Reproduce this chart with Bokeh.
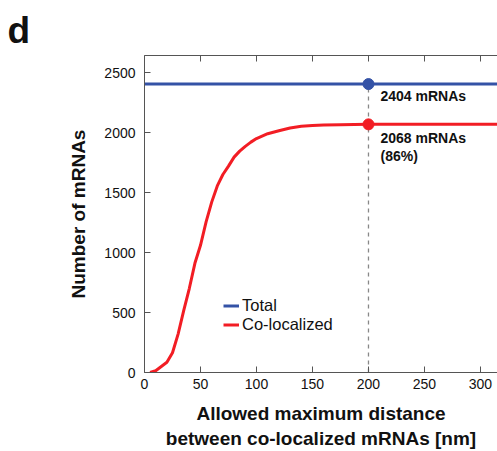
from bokeh.plotting import figure
from bokeh.models import Range1d, LinearAxis, FixedTicker, Legend, LegendItem
from bokeh.core.properties import value
from bokeh.embed import file_html
from bokeh.resources import INLINE

# ---- data ----
coloc_x = [5, 10, 15, 20, 25, 30, 35, 40, 45, 50, 55, 60, 65, 70, 75, 80, 85, 90, 95,
           100, 110, 120, 130, 140, 150, 160, 175, 200, 320]
coloc_y = [0, 15, 50, 85, 165, 320, 515, 700, 910, 1060, 1255, 1420, 1555, 1650, 1720,
           1795, 1845, 1885, 1920, 1950, 1990, 2015, 2038, 2052, 2058, 2062, 2065, 2068, 2068]
total_x = [0, 320]
total_y = [2404, 2404]
cut_x = 200
total_at_cut = 2404
coloc_at_cut = 2068
x_ticks = [0, 50, 100, 150, 200, 250, 300]
y_ticks = [0, 500, 1000, 1500, 2000, 2500]
label_total = "2404 mRNAs"
label_coloc = ["2068 mRNAs", "(86%)"]

FONT = "Liberation Sans"
BLUE = "#3452a6"
RED = "#f21d24"
AX = "#555555"

p = figure(width=497, height=451, output_backend="svg", toolbar_location=None,
           x_range=Range1d(0, 315.2), y_range=Range1d(0, 2642),
           min_border_left=144, min_border_right=0, min_border_top=55, min_border_bottom=79)
p.outline_line_color = None
p.grid.visible = False
p.background_fill_color = "white"
p.border_fill_color = "white"

# panel letter as title
p.title.text = "d"
p.title.align = "left"
p.title.offset = -137
p.title.standoff = 10
p.title.text_line_height = 1.0
p.title.text_font = FONT
p.title.text_font_style = "bold"
p.title.text_font_size = "37px"
p.title.text_color = "#111111"

for ax in [p.xaxis[0], p.yaxis[0]]:
    ax.axis_line_color = AX
    ax.major_tick_line_color = AX
    ax.major_tick_in = 6
    ax.major_tick_out = 0
    ax.minor_tick_line_color = None
    ax.major_label_text_font = FONT
    ax.major_label_text_font_size = "14px"
    ax.major_label_text_color = "#111111"
    ax.axis_label_text_font = FONT
    ax.axis_label_text_font_style = "bold"
    ax.axis_label_text_font_size = "19px"
    ax.axis_label_text_color = "#111111"

p.xaxis.ticker = FixedTicker(ticks=x_ticks)
p.yaxis.ticker = FixedTicker(ticks=y_ticks)
p.xaxis.major_label_standoff = 6
p.yaxis.major_label_standoff = 9
p.xaxis.axis_label = "Allowed maximum distance\nbetween co-localized mRNAs [nm]"
p.yaxis.axis_label = "Number of mRNAs"
p.xaxis.axis_label_standoff = 11
p.yaxis.axis_label_standoff = 12

top = LinearAxis(ticker=FixedTicker(ticks=x_ticks))
top.axis_line_color = AX
top.major_tick_line_color = AX
top.major_tick_in = 6
top.major_tick_out = 0
top.minor_tick_line_color = None
top.major_label_text_color = None
top.major_label_text_font_size = "1px"
top.major_label_standoff = 0
p.add_layout(top, "above")

# dashed vertical line at cut
p.line([cut_x, cut_x], [0, total_at_cut], line_color="#888888", line_width=1.3, line_dash="4 4")

r_total = p.line(total_x, total_y, line_color=BLUE, line_width=3)
r_coloc = p.line(coloc_x, coloc_y, line_color=RED, line_width=3)

p.scatter([cut_x], [total_at_cut], size=11, color=BLUE)
p.scatter([cut_x], [coloc_at_cut], size=11, color=RED)

p.text([210.7], [2308], text=[label_total], text_font=value(FONT), text_font_style="bold",
       text_font_size="14px", text_baseline="middle", text_color="#111111")
p.text([210.7, 210.7], [1952, 1808], text=label_coloc, text_font=value(FONT), text_font_style="bold",
       text_font_size="14px", text_baseline="middle", text_color="#111111")

legend = Legend(items=[LegendItem(label="Total", renderers=[r_total]),
                       LegendItem(label="Co-localized", renderers=[r_coloc])],
                location=(79, 38), border_line_color=None, background_fill_alpha=0,
                padding=0, margin=0, spacing=0, glyph_width=16, glyph_height=19,
                label_height=19, label_standoff=3,
                label_text_font=FONT, label_text_font_size="16.5px", label_text_color="#111111")
p.add_layout(legend, "center")

open("out.html", "w").write(file_html(p, INLINE))
